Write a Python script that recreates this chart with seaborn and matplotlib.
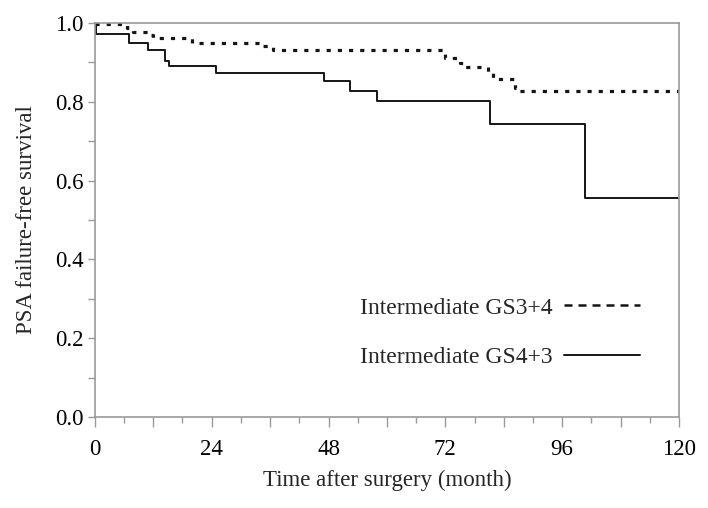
# Kaplan-Meier style PSA failure-free survival curves, GS3+4 vs GS4+3

# --- imports --- #
import pandas as pd
import matplotlib.pyplot as plt
from matplotlib.lines import Line2D
import seaborn as sns

# --- data --- #
gs34_time = [0, 6.5, 7.8, 11.3, 12, 20, 34.5, 36.6, 71.9, 75, 75.6, 80.8, 81.8, 86.3, 87, 120]
gs34_surv = [0.996, 0.987, 0.978, 0.970, 0.961, 0.949, 0.942, 0.930, 0.911, 0.898, 0.887,
             0.873, 0.857, 0.835, 0.826, 0.826]

gs43_time = [0, 0.3, 7, 11, 14.4, 15.3, 24.9, 47, 52.5, 57.9, 81.2, 100.7, 120]
gs43_surv = [1.0, 0.973, 0.949, 0.930, 0.902, 0.890, 0.873, 0.852, 0.828, 0.803, 0.743, 0.555, 0.555]

labels = ["Intermediate GS3+4", "Intermediate GS4+3"]
x_ticks = list(range(0, 121, 12))
x_labels = [str(t) if t % 24 == 0 else "" for t in x_ticks]
y_ticks = [i / 10 for i in range(11)]
y_labels = [f"{t:.1f}" if i % 2 == 0 else "" for i, t in enumerate(y_ticks)]

df34 = pd.DataFrame({"time": gs34_time, "surv": gs34_surv})
df43 = pd.DataFrame({"time": gs43_time, "surv": gs43_surv})

# --- style --- #
sns.set_theme(style="white")
plt.rcParams['font.family'] = ['Liberation Serif', 'DejaVu Serif']
fs = 16.5
grey = "#9a9a9a"
ink = "#151515"

fig = plt.figure(figsize=(7.08, 5.08), dpi=100)
ax = fig.add_axes([0.134, 0.179, 0.825, 0.776])

## curves
sns.lineplot(data=df34, x="time", y="surv", ax=ax, estimator=None, sort=False,
             drawstyle="steps-post", color=ink, linewidth=2.3,
             linestyle=(0, (1.3, 2.2)))
sns.lineplot(data=df43, x="time", y="surv", ax=ax, estimator=None, sort=False,
             drawstyle="steps-post", color=ink, linewidth=1.4)

## axes
ax.set_xlim(0, 120)
ax.set_ylim(0, 1.0)
ax.set_xticks(x_ticks)
ax.set_xticklabels(x_labels)
ax.set_xticks(range(6, 120, 12), minor=True)
ax.set_yticks(y_ticks)
ax.set_yticklabels(y_labels)
ax.tick_params(axis="x", which="major", direction="out", length=7, width=1, color=grey,
               labelsize=fs, labelcolor="black", pad=9, bottom=True)
ax.tick_params(axis="x", which="minor", direction="out", length=4, width=1, color=grey, bottom=True)
ax.tick_params(axis="y", direction="out", length=5, width=1, color=grey,
               labelsize=fs, labelcolor="black", pad=3, left=True)
for side in ax.spines.values():
    side.set_color(grey)
    side.set_linewidth(1.2)

ax.set_xlabel("Time after surgery (month)", fontsize=fs, labelpad=7)
ax.set_ylabel("PSA failure-free survival", fontsize=fs, labelpad=13)

## legend (text first, line after)
handles = [Line2D([], [], color=ink, linewidth=1.8, linestyle=(0, (3.2, 2.4))),
           Line2D([], [], color=ink, linewidth=1.4)]
ax.legend(handles, labels, loc="center", bbox_to_anchor=(0.693, 0.214), frameon=False,
          markerfirst=False, fontsize=17, handlelength=3.2, handletextpad=0.5,
          labelspacing=1.2)

plt.savefig("out.png", dpi=100)
plt.close()
